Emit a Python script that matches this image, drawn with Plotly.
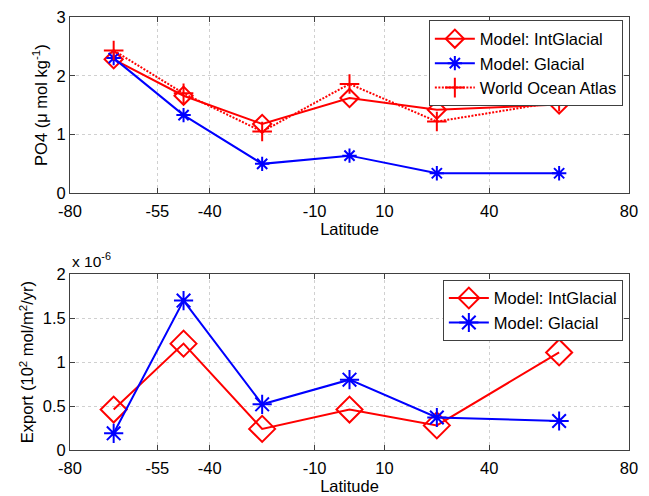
import plotly.graph_objects as go

lat = [-67.5, -47.5, -25, 0, 25, 60]
lat_ticks = [-80, -55, -40, -10, 10, 40, 80]
lat_ticklabels = ["-80", "-55", "-40", "-10", "10", "40", "80"]

po4_intglacial = [2.28, 1.66, 1.18, 1.62, 1.42, 1.51]
po4_glacial = [2.30, 1.33, 0.50, 0.64, 0.34, 0.34]
po4_woa = [2.43, 1.70, 1.05, 1.86, 1.22, 1.56]
po4_ticks = [0, 1, 2, 3]

exp_intglacial = [0.46e-6, 1.21e-6, 0.24e-6, 0.46e-6, 0.28e-6, 1.11e-6]
exp_glacial = [0.19e-6, 1.70e-6, 0.52e-6, 0.80e-6, 0.37e-6, 0.33e-6]
exp_ticks = [0, 0.5e-6, 1e-6, 1.5e-6, 2e-6]
exp_ticklabels = ["0", "0.5", "1", "1.5", "2"]

RED = "#ff0000"
BLUE = "#0000ff"
FONT = "Liberation Sans, Arial, sans-serif"
FS = 16.5

fig = go.Figure()

fig.add_trace(go.Scatter(x=lat, y=po4_intglacial, mode="lines+markers", name="Model: IntGlacial",
                         line=dict(color=RED, width=2),
                         marker=dict(symbol="diamond-open", size=14, color=RED, line=dict(width=2, color=RED)),
                         xaxis="x", yaxis="y", legend="legend", legendgroup="a1"))
fig.add_trace(go.Scatter(x=lat, y=po4_glacial, mode="lines+markers", name="Model: Glacial",
                         line=dict(color=BLUE, width=2),
                         marker=dict(symbol="asterisk-open", size=12, color=BLUE, line=dict(width=2, color=BLUE)),
                         xaxis="x", yaxis="y", legend="legend", legendgroup="a2"))
fig.add_trace(go.Scatter(x=lat, y=po4_woa, mode="lines+markers", name="World Ocean Atlas",
                         line=dict(color=RED, width=2, dash="2px,1.5px"),
                         marker=dict(symbol="cross-thin-open", size=14, color=RED, line=dict(width=2, color=RED)),
                         xaxis="x", yaxis="y", legend="legend", legendgroup="a3"))

fig.add_trace(go.Scatter(x=lat, y=exp_intglacial, mode="lines+markers", name="Model: IntGlacial",
                         line=dict(color=RED, width=2),
                         marker=dict(symbol="diamond-open", size=20, color=RED, line=dict(width=2, color=RED)),
                         xaxis="x2", yaxis="y2", legend="legend2", legendgroup="b1"))
fig.add_trace(go.Scatter(x=lat, y=exp_glacial, mode="lines+markers", name="Model: Glacial",
                         line=dict(color=BLUE, width=2),
                         marker=dict(symbol="asterisk-open", size=16, color=BLUE, line=dict(width=2, color=BLUE)),
                         xaxis="x2", yaxis="y2", legend="legend2", legendgroup="b2"))

axis_common = dict(showline=True, linecolor="#404040", linewidth=1, mirror="ticks",
                   ticks="inside", ticklen=5, tickcolor="#404040", automargin=False,
                   showgrid=True, gridcolor="#d0d0d0", griddash="dot", gridwidth=1,
                   zeroline=False, tickfont=dict(size=FS, color="black", family=FONT))

fig.update_layout(
    width=649, height=496,
    margin=dict(l=70, r=20, t=17, b=46),
    paper_bgcolor="white", plot_bgcolor="white",
    font=dict(family=FONT, color="black", size=FS),
    xaxis=dict(domain=[0, 1], anchor="y", range=[-80, 80], tickvals=lat_ticks, ticktext=lat_ticklabels,
               ticklabelstandoff=3,
               title=dict(text="Latitude", standoff=0, font=dict(size=FS)), **axis_common),
    yaxis=dict(domain=[0.593, 1.0], anchor="x", range=[0, 3], tickvals=po4_ticks,
               title=dict(text="PO4 (\u03bc mol kg<sup>-1</sup>)", standoff=4, font=dict(size=FS)), **axis_common),
    xaxis2=dict(domain=[0, 1], anchor="y2", range=[-80, 80], tickvals=lat_ticks, ticktext=lat_ticklabels,
                ticklabelstandoff=3,
                title=dict(text="Latitude", standoff=0, font=dict(size=FS)), **axis_common),
    yaxis2=dict(domain=[0, 0.406], anchor="x2", range=[0, 2e-6], tickvals=exp_ticks, ticktext=exp_ticklabels,
                title=dict(text="Export (10<sup>2</sup> mol/m<sup>2</sup>/yr)", standoff=4, font=dict(size=FS)), **axis_common),
    legend=dict(x=0.989, y=0.992, xanchor="right", yanchor="top", bordercolor="#404040", borderwidth=1,
                bgcolor="white", font=dict(size=FS), tracegroupgap=0, itemwidth=40),
    legend2=dict(x=0.989, y=0.393, xanchor="right", yanchor="top", bordercolor="#404040", borderwidth=1,
                 bgcolor="white", font=dict(size=FS), tracegroupgap=0, itemwidth=40),
    showlegend=True,
)

fig.add_annotation(text="x 10<sup>-6</sup>", xref="paper", yref="paper", x=0, y=0.406,
                   xanchor="left", yanchor="bottom", yshift=2, showarrow=False, font=dict(size=15.5, family=FONT))

fig.write_html("out.html", config={"displayModeBar": False},
               post_script="document.body.style.margin='0';document.body.style.overflow='hidden';")
